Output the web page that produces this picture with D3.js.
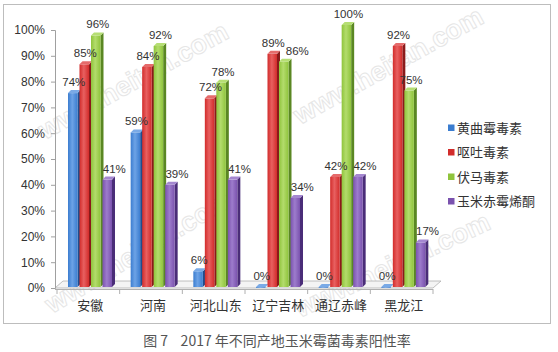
<!DOCTYPE html>
<html>
<head>
<meta charset="utf-8">
<script src="https://cdn.jsdelivr.net/npm/d3@7/dist/d3.min.js"></script>
<style>
  body { margin: 0; background: #fff; }
  svg text { font-family: "Liberation Sans", "Noto Sans CJK SC", sans-serif; }
  .cjk { font-family: "Noto Sans CJK SC", sans-serif; }
</style>
</head>
<body>
<div id="chart"></div>
<script>
// data
const categories = ['安徽', '河南', '河北山东', '辽宁吉林', '通辽赤峰', '黑龙江'];
const seriesNames = ['黄曲霉毒素', '呕吐毒素', '伏马毒素', '玉米赤霉烯酮'];
const aflatoxin = [74, 59, 6, 0, 0, 0];
const vomitoxin = [85, 84, 72, 89, 42, 92];
const fumonisin = [96, 92, 78, 86, 100, 75];
const zearalenone = [41, 39, 41, 34, 42, 17];
const yTicks = [0, 10, 20, 30, 40, 50, 60, 70, 80, 90, 100];

const seriesValues = [aflatoxin, vomitoxin, fumonisin, zearalenone];
const colors = [
  { front: '#3b7dd0', light: '#6da3e6', side: '#1f4d8e', top: '#7aaae6' },
  { front: '#d22c2b', light: '#e86060', side: '#8a1a1a', top: '#e56b6b' },
  { front: '#8fc43c', light: '#b3dc6c', side: '#5a8723', top: '#b6de74' },
  { front: '#7a52ae', light: '#9d7ccc', side: '#4a2d78', top: '#a487d0' }
];
// label nudge per series (the 3D labels sit a bit to the right)
const labelShift = [1, 1, 2, 7];

const width = 558, height = 352;
const depth = 3;

const svg = d3.select('#chart').append('svg')
  .attr('width', width)
  .attr('height', height);

// gradients for bar fronts
const defs = svg.append('defs');
colors.forEach((c, i) => {
  const g = defs.append('linearGradient').attr('id', `grad${i}`)
    .attr('x1', '0%').attr('x2', '100%').attr('y1', '0%').attr('y2', '0%');
  g.append('stop').attr('offset', '0%').attr('stop-color', c.front);
  g.append('stop').attr('offset', '45%').attr('stop-color', c.light);
  g.append('stop').attr('offset', '100%').attr('stop-color', c.front);
});

// chart frame
svg.append('rect')
  .attr('x', 3.5).attr('y', 4.5)
  .attr('width', 547).attr('height', 319)
  .attr('fill', '#fff')
  .attr('stroke', '#bdbdbd');

// watermarks
const marks = [[45, 140, -29], [300, 125, -29], [52, 314, -31], [300, 318, -25]];
marks.forEach(m => {
  svg.append('text')
    .attr('transform', `translate(${m[0]},${m[1]}) rotate(${m[2]})`)
    .attr('font-size', 27)
    .attr('font-weight', 'bold')
    .attr('fill', 'none')
    .attr('stroke', '#e6e6e6')
    .attr('stroke-width', 1)
    .text('www.heitan.com');
});

// scales
const x = d3.scaleBand().domain(categories).range([57, 433]);
const xs = d3.scaleBand().domain(seriesNames).range([11, 57]);
const yAxisScale = d3.scaleLinear().domain([0, 100]).range([288, 30]);
const y = d3.scaleLinear().domain([0, 100]).range([287, 25]);

// floor
const floorL = x.range()[0] - 2, floorR = x.range()[1];
svg.append('path')
  .attr('d', `M${floorL},288 L${floorL + 8},281 L${floorR + 8},281 L${floorR},288 Z`)
  .attr('fill', '#f4f4f4')
  .attr('stroke', '#b0b0b0')
  .attr('stroke-width', 0.8);
svg.append('line')
  .attr('x1', floorL).attr('x2', floorR)
  .attr('y1', 289.5).attr('y2', 289.5)
  .attr('stroke', '#b0b0b0');

// category separators
d3.range(categories.length + 1).forEach(i => {
  const xx = x.range()[0] + x.step() * i;
  svg.append('line')
    .attr('x1', xx).attr('x2', xx)
    .attr('y1', 289).attr('y2', 294)
    .attr('stroke', '#b0b0b0');
});

// y axis
const yAxis = d3.axisLeft(yAxisScale)
  .tickValues(yTicks)
  .tickSize(4)
  .tickPadding(6)
  .tickFormat(d => d + '%');
const ay = svg.append('g')
  .attr('transform', 'translate(55,0)')
  .call(yAxis);
ay.select('.domain').attr('stroke', '#a0a0a0');
ay.selectAll('.tick line').attr('stroke', '#a0a0a0');
ay.selectAll('.tick text')
  .attr('font-size', 12)
  .attr('fill', '#333')
  .style('font-family', '"Liberation Sans", sans-serif');

// bars
const bw = 9.5;
const labelLayer = svg.append('g');
categories.forEach((cat, ci) => {
  let prev = null;
  seriesNames.forEach((s, si) => {
    const v = seriesValues[si][ci];
    const c = colors[si];
    const x0 = x(cat) + xs(s);
    const yt = y(v);
    const yb = y(0);
    const g = svg.append('g');
    // side face
    g.append('path')
      .attr('d', `M${x0 + bw},${yt} L${x0 + bw + depth},${yt - depth} L${x0 + bw + depth},${yb - depth} L${x0 + bw},${yb} Z`)
      .attr('fill', c.side);
    // front face
    g.append('rect')
      .attr('x', x0).attr('y', yt)
      .attr('width', bw).attr('height', Math.max(yb - yt, 0.8))
      .attr('fill', `url(#grad${si})`);
    // top face
    g.append('path')
      .attr('d', `M${x0},${yt} L${x0 + depth},${yt - depth} L${x0 + bw + depth},${yt - depth} L${x0 + bw},${yt} Z`)
      .attr('fill', c.top);

    // value label, pushed right if it runs into the previous one
    const txt = labelLayer.append('text')
      .attr('x', x0 + bw / 2 + labelShift[si])
      .attr('y', yt - 7)
      .attr('text-anchor', 'middle')
      .attr('font-size', 11.5)
      .attr('fill', '#333')
      .text(v + '%');
    let box = txt.node().getBBox();
    if (prev && Math.abs(prev.y - box.y) < box.height && box.x < prev.x + prev.width + 1) {
      const dx = prev.x + prev.width + 1 - box.x;
      txt.attr('x', +txt.attr('x') + dx);
      box = txt.node().getBBox();
    }
    prev = box;
  });
});
labelLayer.raise();

// category labels
categories.forEach(cat => {
  svg.append('text')
    .attr('class', 'cjk')
    .attr('x', x(cat) + x.bandwidth() / 2 + 2)
    .attr('y', 310)
    .attr('text-anchor', 'middle')
    .attr('font-size', 13)
    .attr('fill', '#333')
    .text(cat);
});

// legend
const legend = svg.append('g').attr('transform', 'translate(448,128)');
seriesNames.forEach((s, i) => {
  const item = legend.append('g').attr('transform', `translate(0,${i * 24.5})`);
  item.append('rect')
    .attr('x', 0).attr('y', -3.5)
    .attr('width', 6.5).attr('height', 6.5)
    .attr('fill', colors[i].front);
  item.append('text')
    .attr('class', 'cjk')
    .attr('x', 9).attr('y', 4.5)
    .attr('font-size', 13)
    .attr('fill', '#333')
    .text(s);
});

// caption
svg.append('text')
  .attr('class', 'cjk')
  .attr('x', 277).attr('y', 346)
  .attr('text-anchor', 'middle')
  .attr('font-size', 14)
  .attr('fill', '#555')
  .text('图\u00a07\u00a0\u00a0\u00a0\u00a02017\u00a0年不同产地玉米霉菌毒素阳性率');
</script>
</body>
</html>
